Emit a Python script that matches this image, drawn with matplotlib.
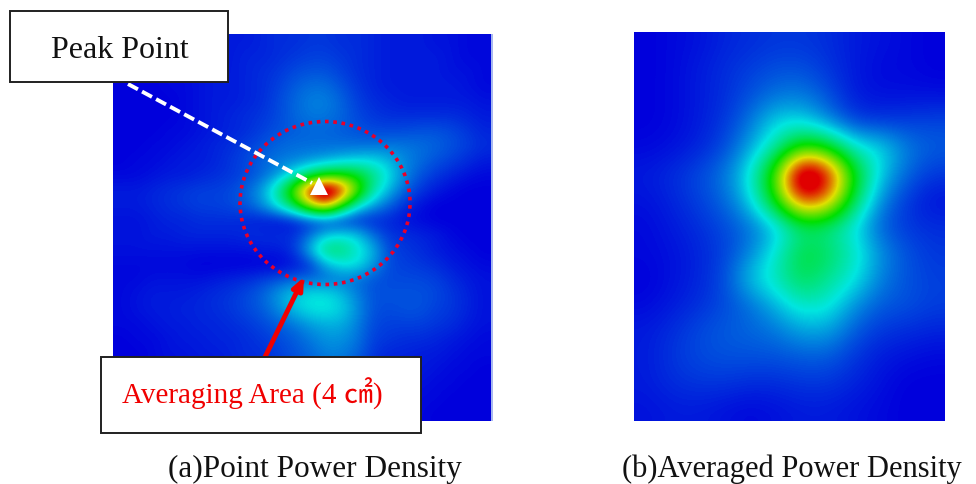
import numpy as np
import matplotlib
matplotlib.use("Agg")
import matplotlib.pyplot as plt
from matplotlib.colors import LinearSegmentedColormap
from matplotlib.patches import Rectangle, Ellipse

plt.rcParams['font.family'] = ['Liberation Serif', 'Noto Sans CJK JP', 'DejaVu Sans']

# power density, 0 = blue, 1 = red
point_density = [
    [.00, .00, .00, .01, .01, .02, .02, .03, .03, .04, .05, .05, .06, .06, .05, .05, .04, .03, .03, .03, .02, .02, .01, .01],
    [.00, .00, .00, .01, .01, .02, .02, .03, .04, .04, .05, .06, .07, .07, .06, .05, .04, .03, .03, .03, .03, .02, .01, .01],
    [.00, .00, .00, .01, .01, .02, .03, .03, .04, .05, .06, .08, .09, .09, .07, .05, .04, .03, .03, .03, .03, .02, .02, .01],
    [.00, .00, .00, .01, .01, .02, .03, .03, .04, .05, .07, .10, .12, .12, .09, .06, .04, .03, .03, .03, .03, .03, .02, .01],
    [.00, .00, .00, .00, .01, .02, .03, .03, .04, .05, .08, .11, .14, .14, .11, .07, .05, .04, .03, .03, .03, .03, .03, .02],
    [.00, .00, .00, .00, .01, .02, .03, .04, .05, .06, .08, .11, .13, .13, .11, .08, .06, .05, .05, .05, .05, .05, .04, .03],
    [.00, .00, .00, .01, .01, .02, .03, .04, .05, .07, .09, .10, .11, .11, .10, .09, .08, .08, .08, .09, .09, .08, .06, .04],
    [.00, .00, .01, .01, .02, .03, .04, .05, .07, .09, .11, .12, .12, .12, .12, .12, .12, .13, .13, .12, .11, .09, .07, .05],
    [.00, .01, .01, .02, .03, .03, .04, .06, .08, .11, .13, .14, .16, .18, .21, .23, .24, .20, .15, .12, .09, .07, .05, .03],
    [.01, .01, .02, .03, .03, .04, .05, .06, .08, .11, .17, .27, .40, .50, .52, .48, .36, .25, .15, .09, .06, .04, .02, .01],
    [.03, .03, .04, .05, .06, .07, .07, .08, .11, .18, .34, .62, 1.00, 1.25, 1.00, .62, .32, .20, .11, .06, .03, .01, .00, .00],
    [.03, .03, .04, .05, .06, .07, .07, .08, .10, .16, .27, .44, .70, .85, .55, .28, .18, .11, .05, .02, .00, .00, .00, .00],
    [.02, .02, .03, .04, .04, .05, .05, .05, .04, .03, .02, .03, .06, .07, .05, .04, .04, .04, .02, .01, .00, .00, .00, .00],
    [.02, .02, .03, .03, .04, .04, .04, .04, .05, .05, .05, .05, .12, .21, .24, .22, .12, .06, .05, .04, .03, .01, .00, .00],
    [.02, .02, .02, .02, .02, .02, .02, .02, .02, .03, .03, .06, .20, .38, .38, .28, .20, .08, .06, .05, .03, .02, .01, .00],
    [.01, .01, .01, .01, .01, .00, .00, .00, .00, .00, .00, .02, .05, .18, .25, .25, .17, .08, .07, .06, .05, .03, .02, .01],
    [.01, .01, .02, .02, .02, .02, .03, .04, .05, .07, .09, .11, .12, .12, .13, .12, .09, .08, .08, .08, .07, .05, .03, .02],
    [.01, .02, .03, .03, .03, .04, .05, .06, .08, .11, .17, .23, .25, .25, .21, .14, .09, .09, .09, .09, .08, .06, .04, .02],
    [.01, .02, .03, .03, .04, .04, .05, .06, .08, .10, .15, .21, .25, .26, .23, .16, .09, .08, .09, .09, .07, .06, .04, .02],
    [.01, .01, .02, .03, .03, .04, .04, .05, .06, .08, .10, .13, .17, .19, .19, .14, .08, .07, .07, .07, .06, .05, .03, .02],
    [.00, .01, .01, .02, .03, .03, .04, .04, .05, .06, .08, .10, .13, .16, .16, .13, .07, .06, .05, .05, .04, .03, .02, .01],
    [.00, .00, .01, .02, .02, .03, .03, .04, .05, .05, .07, .09, .11, .14, .14, .11, .06, .04, .04, .03, .03, .02, .01, .01],
    [.00, .00, .01, .01, .02, .02, .03, .03, .04, .05, .06, .08, .10, .12, .12, .09, .05, .03, .03, .03, .02, .01, .01, .00],
    [.00, .00, .00, .01, .01, .02, .02, .03, .03, .04, .05, .06, .08, .09, .09, .07, .04, .03, .02, .02, .01, .01, .00, .00],
    [.00, .00, .00, .00, .01, .01, .02, .02, .03, .03, .04, .05, .06, .06, .06, .05, .03, .02, .02, .01, .01, .00, .00, .00],
    [.00, .00, .00, .00, .00, .01, .01, .02, .02, .02, .03, .03, .04, .04, .04, .03, .02, .02, .01, .01, .00, .00, .00, .00],
]

# power density
averaged_density = [
    [.00, .01, .02, .04, .05, .06, .06, .05, .03, .02, .01, .00],
    [.00, .01, .03, .05, .07, .09, .09, .06, .03, .01, .01, .00],
    [.00, .01, .03, .05, .09, .13, .14, .09, .03, .02, .02, .02],
    [.00, .01, .03, .06, .13, .24, .24, .15, .07, .06, .07, .08],
    [.01, .02, .04, .08, .18, .32, .56, .50, .28, .25, .14, .10],
    [.03, .05, .08, .13, .26, .60, 1.30, 1.05, .50, .22, .11, .06],
    [.02, .04, .07, .11, .22, .52, .98, .85, .40, .15, .06, .02],
    [.01, .03, .05, .08, .12, .20, .36, .34, .24, .10, .06, .05],
    [.01, .02, .04, .07, .14, .27, .44, .40, .29, .16, .09, .06],
    [.00, .02, .04, .08, .22, .30, .42, .34, .26, .14, .09, .07],
    [.01, .03, .05, .08, .12, .20, .29, .27, .16, .10, .09, .07],
    [.03, .05, .08, .10, .11, .13, .18, .18, .10, .06, .05, .04],
    [.03, .06, .08, .09, .09, .09, .10, .10, .06, .03, .02, .01],
    [.03, .05, .06, .06, .05, .05, .06, .06, .04, .02, .00, .00],
    [.02, .03, .03, .02, .01, .02, .03, .03, .02, .01, .00, .00],
]

peak_label = "Peak Point"
area_label = "Averaging Area (4 ㎠)"
caption_a = "(a)Point Power Density"
caption_b = "(b)Averaged Power Density"

cmap = LinearSegmentedColormap.from_list(
    "power", ["#0000dc", "#00e6e0", "#00e000", "#e0e000", "#e00000"])

# one axes over the whole figure, coordinates are pixels of the picture
fig = plt.figure(figsize=(9.76, 4.85), dpi=100)
ax = fig.add_axes([0, 0, 1, 1])

ax.imshow(point_density, cmap=cmap, vmin=0, vmax=1, interpolation="bicubic",
          extent=(113, 491, 422, 35), aspect="auto")
ax.add_patch(Rectangle((491, 35), 2, 387, color="#a8b8f0", lw=0))
ax.imshow(averaged_density, cmap=cmap, vmin=0, vmax=1, interpolation="bicubic",
          extent=(634, 945, 422, 33), aspect="auto")

ax.set_xlim(0, 976)
ax.set_ylim(485, 0)
ax.axis("off")

# dotted circle
ax.add_patch(Ellipse((325, 204), 170, 163, fill=False, ec="#e8002a", lw=2.6,
                     ls=(0, (1, 1.3))))

# white dashed line with a triangle on the peak
ax.plot([128, 312], [85, 184], color="white", lw=2.8, ls=(0, (2.9, 1.2)))
ax.plot([318.5], [187], marker="^", ms=13, color="white", mew=0)

# red arrow to the circle
ax.annotate("", xy=(304, 278), xytext=(265, 358),
            arrowprops=dict(arrowstyle="-|>,head_width=0.3,head_length=0.7",
                            color="#f00000", lw=3.5, shrinkA=0, shrinkB=0))

# label boxes
ax.add_patch(Rectangle((10, 12), 218, 71, fc="white", ec="#202020", lw=1.4, zorder=5))
ax.add_patch(Rectangle((101, 358), 320, 76, fc="white", ec="#202020", lw=1.4, zorder=5))
ax.text(120, 50, peak_label, fontsize=23, color="#111111", ha="center", va="center", zorder=6)
ax.text(122, 394, area_label, fontsize=21, color="#f00000", ha="left", va="center", zorder=6)

ax.text(168, 477, caption_a, fontsize=22.5, color="#111111", ha="left", va="baseline")
ax.text(622, 477, caption_b, fontsize=22, color="#111111", ha="left", va="baseline")

fig.savefig("out.png", dpi=100)
